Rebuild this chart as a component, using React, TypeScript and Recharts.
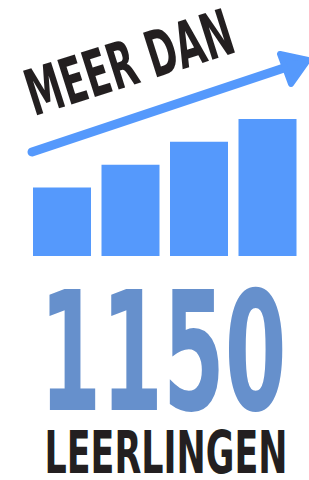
import { Bar, BarChart, XAxis, YAxis, Cell } from "recharts";

const years = ["1", "2", "3", "4"];
const growth = [3, 4, 5, 6];
const headline = "MEER DAN";
const total = "1150";
const unit = "LEERLINGEN";

const data = years.map((name, i) => ({ name, value: growth[i] }));

const BAR_BLUE = "#5599fc";
const NUM_BLUE = "#6690cc";
const INK = "#231f20";
const FONT = "'DejaVu Sans Condensed', 'Liberation Sans Narrow', 'DejaVu Sans', sans-serif";

export default function App() {
  return (
    <div style={{ position: "absolute", left: 0, top: 0, width: 309, height: 480, background: "#fff", overflow: "hidden" }}>
      <BarChart
        width={309}
        height={480}
        data={data}
        margin={{ top: 119, right: 7, bottom: 224, left: 28 }}
      >
        <XAxis dataKey="name" hide />
        <YAxis hide domain={[0, 6]} />
        <Bar dataKey="value" barSize={58} isAnimationActive={false}>
          {data.map((d) => (
            <Cell key={d.name} fill={BAR_BLUE} />
          ))}
        </Bar>
      </BarChart>
      <svg width={309} height={480} style={{ position: "absolute", left: 0, top: 0, pointerEvents: "none" }}>
        {/* trend arrow */}
        <line x1={32} y1={152} x2={287} y2={67} stroke={BAR_BLUE} strokeWidth={9} strokeLinecap="round" />
        <polygon
          points="280,54 291,84 308,60"
          fill={BAR_BLUE}
          stroke={BAR_BLUE}
          strokeWidth={6}
          strokeLinejoin="round"
        />
        <text
          x={136}
          y={84}
          textAnchor="middle"
          fontFamily={FONT}
          fontWeight="bold"
          fontSize={64}
          fill={INK}
          textLength={214}
          lengthAdjust="spacingAndGlyphs"
          transform="rotate(-17.6 136 84)"
        >
          {headline}
        </text>
        <text
          x={163}
          y={410}
          textAnchor="middle"
          fontFamily={FONT}
          fontWeight="bold"
          fontSize={165}
          fill={NUM_BLUE}
          textLength={247}
          lengthAdjust="spacingAndGlyphs"
        >
          {total}
        </text>
        <text
          x={166}
          y={473}
          textAnchor="middle"
          fontFamily={FONT}
          fontWeight="bold"
          fontSize={59}
          fill={INK}
          textLength={243}
          lengthAdjust="spacingAndGlyphs"
        >
          {unit}
        </text>
      </svg>
    </div>
  );
}
